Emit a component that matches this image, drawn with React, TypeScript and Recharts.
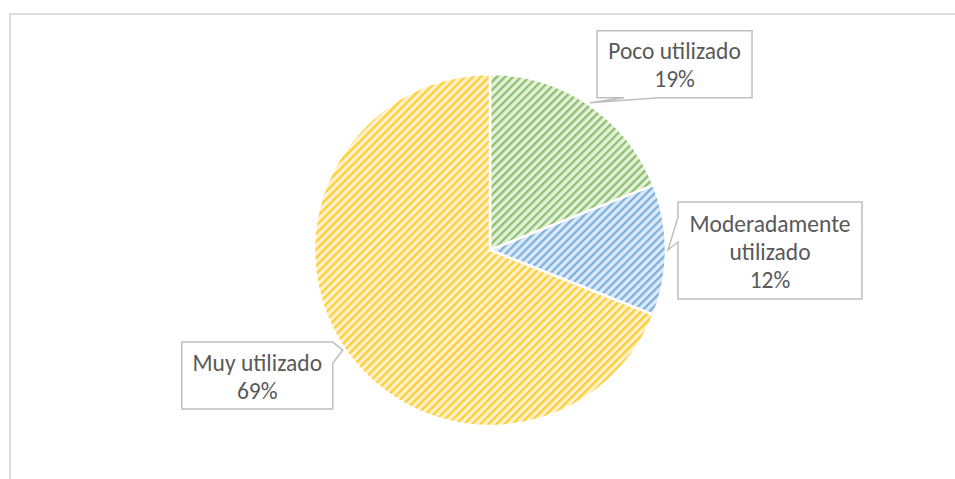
import { Cell, Pie, PieChart } from "recharts";

const categories = ["Poco utilizado", "Moderadamente utilizado", "Muy utilizado"];
const shares = [19, 12, 69];

const fills = [
  { bg: "#E3F0DA", line: "#70AD47" },
  { bg: "#DCEAF7", line: "#5B9BD5" },
  { bg: "#FFF1C9", line: "#FFC000" },
];

// callout boxes, placed relative to the tip that touches the slice
const callouts = [
  { dx: 7, dy: -72, w: 155, h: 67, side: "bottom", a: 34, b: 69 },
  { dx: 10, dy: -48, w: 184, h: 97, side: "left", a: -33, b: -8 },
  { dx: -161, dy: -8, w: 151, h: 67, side: "right", a: -8, b: 13 },
];

const data = categories.map((name, i) => ({ name, value: shares[i] }));

const RAD = Math.PI / 180;

function wrap(name: string) {
  return name.length > 14 ? name.split(" ") : [name];
}

function calloutPath(
  x: number,
  y: number,
  w: number,
  h: number,
  side: string,
  a: number,
  b: number,
  tx: number,
  ty: number
) {
  const p: string[] = [`M${x},${y}`];
  if (side === "top") p.push(`L${a},${y}`, `L${tx},${ty}`, `L${b},${y}`);
  p.push(`L${x + w},${y}`);
  if (side === "right") p.push(`L${x + w},${a}`, `L${tx},${ty}`, `L${x + w},${b}`);
  p.push(`L${x + w},${y + h}`);
  if (side === "bottom") p.push(`L${b},${y + h}`, `L${tx},${ty}`, `L${a},${y + h}`);
  p.push(`L${x},${y + h}`);
  if (side === "left") p.push(`L${x},${b}`, `L${tx},${ty}`, `L${x},${a}`);
  p.push("Z");
  return p.join(" ");
}

function renderCallout(props: any) {
  const { cx, cy, midAngle, outerRadius, index, name, value } = props;
  const c = callouts[index];
  const tx = cx + (outerRadius + 2) * Math.cos(-midAngle * RAD);
  const ty = cy + (outerRadius + 2) * Math.sin(-midAngle * RAD);
  const x = tx + c.dx;
  const y = ty + c.dy;
  const horiz = c.side === "top" || c.side === "bottom";
  const a = horiz ? tx + c.a : ty + c.a;
  const b = horiz ? tx + c.b : ty + c.b;
  const lines = [...wrap(name), `${value}%`];
  const mid = y + c.h / 2;
  const lh = 28;
  return (
    <g key={`callout-${index}`}>
      <path
        d={calloutPath(x, y, c.w, c.h, c.side, a, b, tx, ty)}
        fill="#fff"
        stroke="#BFBFBF"
        strokeWidth={1.5}
      />
      {lines.map((t, i) => (
        <text
          key={i}
          x={x + c.w / 2}
          y={mid + (i - (lines.length - 1) / 2) * lh + 1}
          textAnchor="middle"
          dominantBaseline="central"
          fill="#595959"
          fontSize={23.5}
          fontFamily="Calibri, Carlito, Lato, sans-serif"
        >
          {t}
        </text>
      ))}
    </g>
  );
}

export default function App() {
  return (
    <div style={{ position: "absolute", left: 0, top: 0, width: 955, height: 479, overflow: "hidden", background: "#fff" }}>
      <div
        style={{
          position: "absolute",
          left: 9,
          top: 13,
          width: 980,
          height: 500,
          borderLeft: "2px solid #DDDDDD",
          borderTop: "2px solid #DDDDDD",
        }}
      />
      <div style={{ position: "absolute", left: 0, top: 0 }}>
        <PieChart width={955} height={479}>
          <defs>
            {fills.map((f, i) => (
              <pattern
                key={i}
                id={`hatch-${i}`}
                width={5.7}
                height={5.7}
                patternUnits="userSpaceOnUse"
                patternTransform="rotate(45)"
              >
                <rect width={5.7} height={5.7} fill={f.bg} />
                <rect width={2.2} height={5.7} fill={f.line} fillOpacity={0.75} />
              </pattern>
            ))}
          </defs>
          <Pie
            data={data}
            dataKey="value"
            nameKey="name"
            cx={485}
            cy={245}
            outerRadius={176}
            startAngle={90}
            endAngle={-270}
            stroke="#fff"
            strokeWidth={2.5}
            label={renderCallout}
            labelLine={false}
            isAnimationActive={false}
          >
            {data.map((d, i) => (
              <Cell key={d.name} fill={`url(#hatch-${i})`} />
            ))}
          </Pie>
        </PieChart>
      </div>
    </div>
  );
}
